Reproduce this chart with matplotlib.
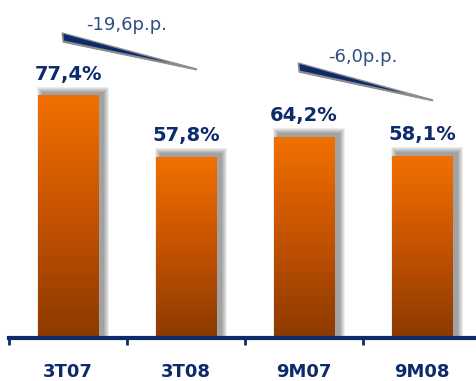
import matplotlib
matplotlib.use("Agg")
import matplotlib.pyplot as plt
import numpy as np
from matplotlib.patches import Polygon, Rectangle
from matplotlib.colors import LinearSegmentedColormap

categories = ["3T07", "3T08", "9M07", "9M08"]
values = [77.4, 57.8, 64.2, 58.1]
value_labels = ["77,4%", "57,8%", "64,2%", "58,1%"]
change_labels = ["-19,6p.p.", "-6,0p.p."]
change_pairs = [(0, 1), (2, 3)]
change_text_y = [100.1, 89.9]
wedge_left_y = [97.5, 87.9]
wedge_right_y = [86.0, 76.1]

W, H = 477, 381
fig = plt.figure(figsize=(W / 100, H / 100), dpi=100)
ax = fig.add_axes([9 / W, (H - 338) / H, 1 - 9 / W, 338 / H])
ax.set_xlim(-0.5, 3.466)
ax.set_ylim(0, 108.1)
ax.set_facecolor("white")

px = 1 / 118.0      # one pixel in x data units
py = 108.1 / 338.0  # one pixel in y data units

navy = "#0d2a6b"
bar_w = 0.51
cmap = LinearSegmentedColormap.from_list("og", ["#8c3a00", "#c45200", "#f27000"])
grad = np.linspace(0, 1, 256).reshape(-1, 1)

for i, v in enumerate(values):
    x0 = i - bar_w / 2
    # soft shadow (offset right and up, blurred)
    sx0 = x0 + 5 * px
    stop = v + 3 * py
    for e in range(1, 7):
        r = Rectangle((sx0 - e * px, 0), bar_w + 2 * e * px,
                      stop + e * py, facecolor="black", alpha=0.07,
                      edgecolor="none", zorder=1)
        ax.add_patch(r)
    ax.add_patch(Rectangle((x0, 0), bar_w, v, facecolor="white", edgecolor="none", zorder=1.5))
    ax.imshow(grad, extent=(x0, x0 + bar_w, 0, v), origin="lower", aspect="auto",
              cmap=cmap, zorder=2, interpolation="bilinear")
    ax.text(i, v + 7, value_labels[i], ha="center", va="center", fontsize=14,
            fontweight="bold", color=navy, zorder=5)

# change wedges
for k, ((a, b), lab) in enumerate(zip(change_pairs, change_labels)):
    xl = a - 0.05
    xr = b + 0.09
    yl = wedge_left_y[k]
    yr = wedge_right_y[k]
    thick = 9 * py
    top_l, top_r = yl + 0.3 * py, yr + 0.2 * py
    bot_l, bot_r = yl - thick, yr - 0.8 * py
    sh = Polygon([(xl, top_l), (xl + 1 * px, bot_l), (xr, bot_r), (xr, top_r)],
                 closed=True, facecolor="#8c8c8c", edgecolor="#8c8c8c", lw=0.8, zorder=3)
    ax.add_patch(sh)
    # navy fill inset: top down 1px, bottom up 1.6px
    nt_l, nt_r = top_l - 1.0 * py, top_r - 1.0 * py
    nb_l, nb_r = bot_l + 1.6 * py, bot_r + 1.6 * py
    t = (nt_l - nb_l) / ((nt_l - nb_l) - (nt_r - nb_r))
    tx = xl + t * (xr - xl)
    ty = nt_l + t * (nt_r - nt_l)
    wd = Polygon([(xl + 1.2 * px, nt_l), (xl + 2 * px, nb_l), (tx, ty)],
                 closed=True, facecolor=navy, edgecolor="none", zorder=4)
    ax.add_patch(wd)
    ax.text((a + b) / 2, change_text_y[k], lab, ha="center", va="center", fontsize=13,
            color="#2f4f80", zorder=5)

ax.set_xticks([-0.5, 0.5, 1.5, 2.5])
ax.set_xticklabels([])
ax.set_xticks(range(len(categories)), minor=True)
ax.set_xticklabels(categories, minor=True, fontsize=13, fontweight="bold", color=navy)
ax.tick_params(axis="x", which="major", length=5, width=2, color=navy, direction="out")
ax.tick_params(axis="x", which="minor", length=0, pad=18)
ax.set_yticks([])
for s in ["top", "right", "left"]:
    ax.spines[s].set_visible(False)
ax.spines["bottom"].set_color(navy)
ax.spines["bottom"].set_linewidth(3)

fig.savefig("out.png", dpi=100, facecolor="white")
